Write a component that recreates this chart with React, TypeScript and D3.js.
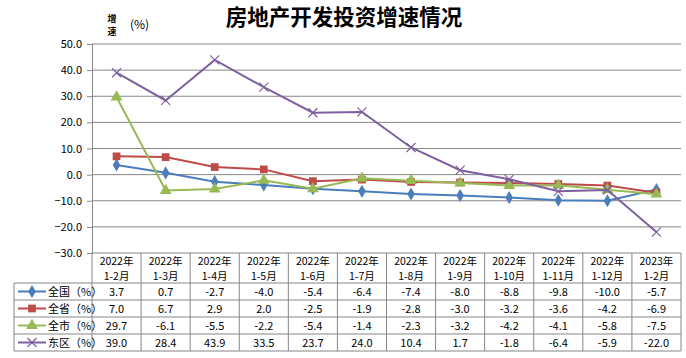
import React, { useEffect, useRef } from 'react';
import * as d3 from 'd3';

// categories (two-line labels)
const months = ['1-2月', '1-3月', '1-4月', '1-5月', '1-6月', '1-7月', '1-8月', '1-9月', '1-10月', '1-11月', '1-12月', '1-2月'];
const years = ['2022年', '2022年', '2022年', '2022年', '2022年', '2022年', '2022年', '2022年', '2022年', '2022年', '2022年', '2023年'];

const seriesNames = ['全国（%）', '全省（%）', '全市（%）', '东区（%）'];
const nation = [3.7, 0.7, -2.7, -4.0, -5.4, -6.4, -7.4, -8.0, -8.8, -9.8, -10.0, -5.7];
const province = [7.0, 6.7, 2.9, 2.0, -2.5, -1.9, -2.8, -3.0, -3.2, -3.6, -4.2, -6.9];
const city = [29.7, -6.1, -5.5, -2.2, -5.4, -1.4, -2.3, -3.2, -4.2, -4.1, -5.8, -7.5];
const district = [39.0, 28.4, 43.9, 33.5, 23.7, 24.0, 10.4, 1.7, -1.8, -6.4, -5.9, -22.0];

const yTicks = [50, 40, 30, 20, 10, 0, -10, -20, -30];

const colors = ['#4a7ebb', '#be4b48', '#98b954', '#7d60a0'];
const markers = ['diamond', 'square', 'triangle', 'cross'];

const FONT = '"Noto Sans CJK SC", "Noto Sans", sans-serif';

export default function App() {
  const ref = useRef<SVGSVGElement>(null);

  useEffect(() => {
    const width = 686;
    const height = 358;
    const margin = { left: 92, right: 5, top: 44, bottom: 105 };
    const all = [nation, province, city, district];

    const svg = d3.select(ref.current);
    svg.selectAll('*').remove();
    svg.attr('width', width).attr('height', height);

    svg.append('rect').attr('width', width).attr('height', height).attr('fill', '#fff');

    const x = d3.scaleBand<number>()
      .domain(d3.range(months.length))
      .range([margin.left, width - margin.right]);

    const y = d3.scaleLinear()
      .domain([-30, 50])
      .range([height - margin.bottom, margin.top]);

    // title
    svg.append('text')
      .attr('x', 344).attr('y', 25)
      .attr('text-anchor', 'middle')
      .attr('font-family', '"Noto Sans CJK SC", serif')
      .attr('font-weight', 'bold')
      .attr('font-size', 21.5)
      .attr('fill', '#000')
      .text('房地产开发投资增速情况');

    // axis title
    const at = svg.append('g').attr('font-family', FONT).attr('fill', '#000');
    at.append('text').attr('x', 112).attr('y', 22).attr('text-anchor', 'middle')
      .attr('font-size', 9).attr('font-weight', 'bold').text('增');
    at.append('text').attr('x', 112).attr('y', 35).attr('text-anchor', 'middle')
      .attr('font-size', 9).attr('font-weight', 'bold').text('速');
    at.append('text').attr('x', 130).attr('y', 29).attr('font-size', 12).text('(%)');

    // gridlines
    svg.append('g')
      .selectAll('line')
      .data(yTicks)
      .enter()
      .append('line')
      .attr('x1', margin.left)
      .attr('x2', width - margin.right)
      .attr('y1', d => y(d))
      .attr('y2', d => y(d))
      .attr('stroke', '#868686')
      .attr('stroke-width', 1);

    // y axis
    const yAxis = d3.axisLeft(y).tickValues(yTicks).tickSize(5).tickFormat(d3.format('.1f'));
    const yg = svg.append('g').attr('transform', `translate(${margin.left},0)`).call(yAxis);
    yg.select('.domain').attr('stroke', '#868686');
    yg.selectAll('.tick line').attr('stroke', '#868686');
    yg.selectAll('.tick text')
      .attr('font-family', FONT)
      .attr('font-size', 11)
      .attr('fill', '#000')
      .attr('x', -10);

    // lines
    const line = d3.line<number>()
      .x((_, i) => x(i)! + x.bandwidth() / 2)
      .y(d => y(d));

    const symbolFor = (m: string) => {
      if (m === 'diamond') return d3.symbol().type(d3.symbolDiamond).size(50);
      if (m === 'square') return d3.symbol().type(d3.symbolSquare).size(60);
      return d3.symbol().type(d3.symbolTriangle).size(60);
    };

    const drawMarker = (g: any, m: string, color: string, cx: number, cy: number) => {
      if (m === 'cross') {
        g.append('path')
          .attr('d', `M${cx - 4.5},${cy - 4.5}L${cx + 4.5},${cy + 4.5}M${cx - 4.5},${cy + 4.5}L${cx + 4.5},${cy - 4.5}`)
          .attr('stroke', color)
          .attr('stroke-width', 1.2)
          .attr('fill', 'none');
      } else {
        g.append('path')
          .attr('d', symbolFor(m)())
          .attr('transform', `translate(${cx},${cy})`)
          .attr('fill', color);
      }
    };

    all.forEach((vals, si) => {
      const g = svg.append('g');
      g.append('path')
        .datum(vals)
        .attr('d', line)
        .attr('fill', 'none')
        .attr('stroke', colors[si])
        .attr('stroke-width', 2);
      vals.forEach((v, i) => drawMarker(g, markers[si], colors[si], x(i)! + x.bandwidth() / 2, y(v)));
    });

    // data table
    const tTop = y(-30);
    const headH = 30;
    const rowH = 17;
    const tLeft = 14;
    const tRight = width - margin.right;
    const tBottom = tTop + headH + rowH * 4;
    const tg = svg.append('g').attr('font-family', FONT).attr('font-size', 11).attr('fill', '#000');
    const border = '#868686';

    // vertical lines of category columns
    d3.range(months.length + 1).forEach(i => {
      const xx = i < months.length ? x(i)! : tRight;
      tg.append('line')
        .attr('x1', xx).attr('x2', xx)
        .attr('y1', tTop).attr('y2', tBottom)
        .attr('stroke', border);
    });
    tg.append('line').attr('x1', tLeft).attr('x2', tLeft)
      .attr('y1', tTop + headH).attr('y2', tBottom).attr('stroke', border);
    d3.range(5).forEach(r => {
      const yy = tTop + headH + r * rowH;
      tg.append('line').attr('x1', tLeft).attr('x2', tRight)
        .attr('y1', yy).attr('y2', yy).attr('stroke', border);
    });

    // header
    months.forEach((m, i) => {
      const cx = x(i)! + x.bandwidth() / 2;
      tg.append('text').attr('x', cx).attr('y', tTop + 12).attr('font-size', 10.5)
        .attr('text-anchor', 'middle').text(years[i]);
      tg.append('text').attr('x', cx).attr('y', tTop + 26.5).attr('font-size', 10.5)
        .attr('text-anchor', 'middle').text(m);
    });

    // rows
    all.forEach((vals, si) => {
      const cy = tTop + headH + si * rowH + rowH / 2;
      const lg = tg.append('g');
      lg.append('line')
        .attr('x1', tLeft + 4).attr('x2', tLeft + 32)
        .attr('y1', cy).attr('y2', cy)
        .attr('stroke', colors[si]).attr('stroke-width', 2);
      drawMarker(lg, markers[si], colors[si], tLeft + 18, cy);
      tg.append('text').attr('x', tLeft + 34).attr('y', cy + 4).text(seriesNames[si]);
      vals.forEach((v, i) => {
        tg.append('text')
          .attr('x', x(i)! + x.bandwidth() / 2)
          .attr('y', cy + 4)
          .attr('text-anchor', 'middle')
          .text(v.toFixed(1));
      });
    });
  }, []);

  return (
    <div style={{ position: 'absolute', left: 0, top: 0 }}>
      <svg ref={ref} style={{ display: 'block' }} />
    </div>
  );
}
